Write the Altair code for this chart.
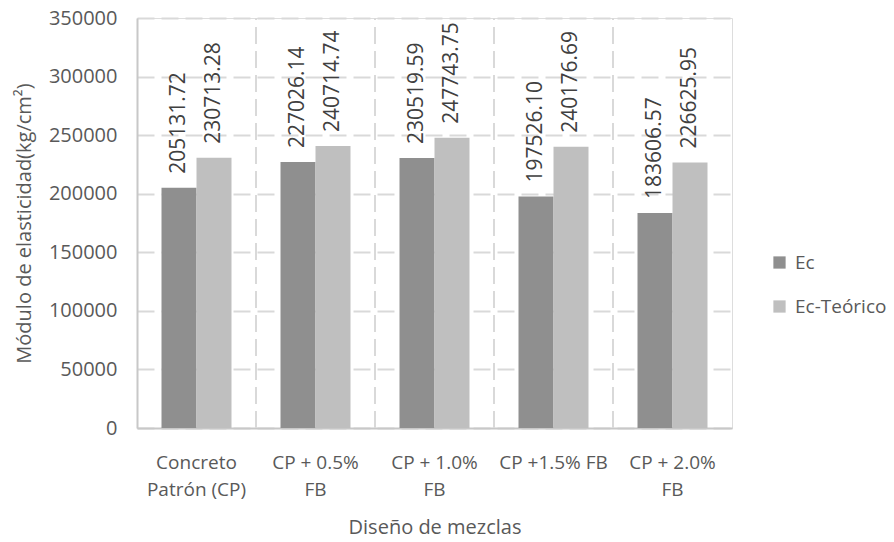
import altair as alt
import pandas as pd

# Mix designs (a "|" marks a line break in the axis label)
categories = ["Concreto|Patrón (CP)", "CP + 0.5%|FB", "CP + 1.0%|FB", "CP +1.5% FB", "CP + 2.0%|FB"]
series_names = ["Ec", "Ec-Teórico"]
ec_values = [205131.72, 227026.14, 230519.59, 197526.10, 183606.57]
ec_teorico_values = [230713.28, 240714.74, 247743.75, 240176.69, 226625.95]
y_ticks = [0, 50000, 100000, 150000, 200000, 250000, 300000, 350000]
bar_colors = ["#8f8f8f", "#bfbfbf"]

rows = []
for cat, a, b in zip(categories, ec_values, ec_teorico_values):
    rows.append({"cat": cat, "series": series_names[0], "value": a})
    rows.append({"cat": cat, "series": series_names[1], "value": b})
df = pd.DataFrame(rows)
df["label"] = df["value"].map(lambda v: f"{v:.2f}")

# Category boundaries for the dashed vertical grid
bounds = pd.DataFrame({"cat": categories[1:]})

FONT = "Open Sans"
GRID = "#d9d9d9"

x_enc = alt.X(
    "cat:N",
    sort=categories,
    scale=alt.Scale(paddingInner=0, paddingOuter=0),
    axis=alt.Axis(
        title="Diseño de mezclas",
        labelAngle=0,
        labelAlign="center",
        labelExpr="split(datum.value, '|')",
        labelFontSize=19,
        labelLineHeight=27,
        labelColor="#595959",
        labelPadding=34,
        labelFont=FONT,
        ticks=False,
        grid=False,
        domainColor="#c8c8c8",
        domainWidth=2,
        titleFont=FONT,
        titleFontSize=20,
        titleFontWeight="normal",
        titleColor="#595959",
        titlePadding=18,
    ),
)
y_enc = alt.Y(
    "value:Q",
    scale=alt.Scale(domain=[0, 350000], nice=False),
    axis=alt.Axis(
        title="Módulo de elasticidad(kg/cm²)",
        values=y_ticks,
        format="d",
        labelFontSize=20,
        labelColor="#595959",
        labelFont=FONT,
        labelPadding=20,
        ticks=False,
        domainColor="#c8c8c8",
        domainWidth=2,
        grid=True,
        gridColor=GRID,
        gridWidth=2,
        gridDash=[17, 7],
        titleFont=FONT,
        titleFontSize=20,
        titleFontWeight="normal",
        titleColor="#595959",
        titlePadding=14,
    ),
)
xoff = alt.XOffset(
    "series:N", sort=series_names, scale=alt.Scale(paddingOuter=0.7, paddingInner=0)
)

bars = alt.Chart(df).mark_bar().encode(
    x=x_enc,
    xOffset=xoff,
    y=y_enc,
    color=alt.Color(
        "series:N",
        sort=series_names,
        scale=alt.Scale(domain=series_names, range=bar_colors),
        legend=alt.Legend(
            title=None,
            orient="none",
            legendX=633,
            legendY=235,
            symbolType="square",
            symbolSize=150,
            symbolStrokeWidth=0,
            labelFont=FONT,
            labelFontSize=19,
            labelColor="#595959",
            rowPadding=24,
            labelOffset=6,
        ),
    ),
)

labels = alt.Chart(df).mark_text(
    angle=270,
    align="left",
    baseline="middle",
    dx=14,
    font=FONT,
    fontSize=21,
    color="#404040",
).encode(
    x=alt.X("cat:N", sort=categories),
    xOffset=xoff,
    y=alt.Y("value:Q"),
    text="label:N",
)

vgrid = alt.Chart(bounds).mark_rule(
    color=GRID, strokeWidth=2, strokeDash=[17, 7]
).encode(
    x=alt.X("cat:N", sort=categories, bandPosition=0),
    y=alt.datum(0),
    y2=alt.datum(350000),
)

chart = (
    alt.layer(vgrid, bars, labels)
    .properties(
        width=595,
        height=410,
        autosize=alt.AutoSizeParams(type="none"),
        padding={"left": 137, "top": 18, "right": 162, "bottom": 114},
    )
    .configure_view(stroke="#d0d0d0", strokeWidth=2)
    .configure(background="white")
)

chart.save("out.html", embed_options={"renderer": "svg", "actions": False})
